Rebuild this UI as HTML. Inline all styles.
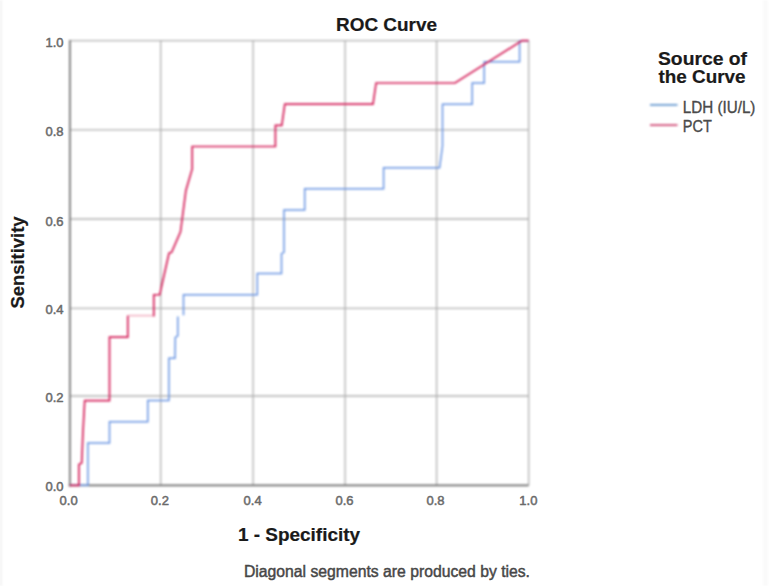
<!DOCTYPE html>
<html>
<head>
<meta charset="utf-8">
<style>
html,body{margin:0;padding:0;background:#fff;}
body{width:770px;height:586px;overflow:hidden;position:relative;}
svg{position:absolute;left:0;top:0;display:block;}
svg.soft{filter:blur(0.8px);}
text{font-family:"Liberation Sans", sans-serif;}
</style>
</head>
<body>
<svg class="soft" width="770" height="586" viewBox="0 0 770 586">
  <rect x="0" y="0" width="770" height="586" fill="#ffffff"/>
  <rect x="-2" y="-2" width="4" height="590" fill="#f2f2f2"/>
  <rect x="763" y="-2" width="5" height="590" fill="#fafafa"/>

  <!-- gridlines -->
  <g stroke="#b0b0b0" stroke-width="1.3" fill="none">
    <line x1="69.9" y1="40.65" x2="528.65" y2="40.65"/>
    <line x1="69.9" y1="129.8" x2="528.65" y2="129.8"/>
    <line x1="69.9" y1="219" x2="528.65" y2="219"/>
    <line x1="69.9" y1="308.3" x2="528.65" y2="308.3"/>
    <line x1="69.9" y1="396" x2="528.65" y2="396"/>
    <line x1="160.7" y1="40.65" x2="160.7" y2="485.3"/>
    <line x1="253.1" y1="40.65" x2="253.1" y2="485.3"/>
    <line x1="345.1" y1="40.65" x2="345.1" y2="485.3"/>
    <line x1="436.6" y1="40.65" x2="436.6" y2="485.3"/>
    <line x1="528.65" y1="40.65" x2="528.65" y2="485.3"/>
  </g>
  <!-- axes -->
  <g stroke-width="1.8" fill="none">
    <line x1="69.9" y1="40" x2="69.9" y2="486.5" stroke="#787878"/>
    <line x1="68.7" y1="485.3" x2="528.65" y2="485.3" stroke="#6a6a6a"/>
  </g>

  <!-- blue curve -->
  <path fill="none" stroke="#6894e2" stroke-width="1.5" stroke-linejoin="miter"
    d="M69.9 485.3 H87.9 V442.95 H109.5 V421.78 H147.8 V400.6 H168.9 V358.26 H175 L175.3 337.5 L177.8 335.8 V316.6 M183.5 315.2 V294.74 H257.3 V273.56 H281.5 V253.7 L284 252.39 V210.04 H304.7 V188.87 H383.6 V167.69 H439.6 L442.5 146 V104.17 H472.2 V83 H484.2 V61.82 H519.6 V40.65 H528.65"/>
  <!-- red curve -->
  <path fill="none" stroke="#d41e58" stroke-width="1.7" stroke-linejoin="miter"
    d="M69.9 485.3 H78.9 V464.5 L81.7 463 L82.9 433.5 L84.7 400.6 H109.5 V337.08 H127.8 V315.6"/>
  <line x1="128.5" y1="315.6" x2="153" y2="315.6" stroke="#f0aabd" stroke-width="1.4"/>
  <path fill="none" stroke="#d41e58" stroke-width="1.7" stroke-linejoin="miter"
    d="M153.8 316.4 V294.74 H159.7 L169 253.2 L171.6 252.39 L180.5 231.8 L185.9 190.5 L192.2 169 V146.5 H275.4 V125.35 H281.8 L284.8 104.17 H373 L376.1 83 H455 L522 40.65 H528.65"/>

  <!-- legend swatches -->
  <line x1="650" y1="104.9" x2="677.5" y2="104.9" stroke="#4a86c8" stroke-width="1.5"/>
  <line x1="650" y1="125.1" x2="677.5" y2="125.1" stroke="#c8285c" stroke-width="1.5"/>
</svg>

<svg width="770" height="586" viewBox="0 0 770 586">
  <!-- title -->
  <text x="336" y="31" font-size="18.5" font-weight="bold" fill="#1a1a1a" stroke="#1a1a1a" stroke-width="0.2" textLength="101" lengthAdjust="spacingAndGlyphs">ROC Curve</text>

  <!-- y tick labels -->
  <g font-size="13" fill="#6a6a6a" stroke="#6a6a6a" stroke-width="0.5" text-anchor="end">
    <text x="63.5" y="491">0.0</text>
    <text x="63.5" y="402">0.2</text>
    <text x="63.5" y="314.2">0.4</text>
    <text x="63.5" y="225.6">0.6</text>
    <text x="63.5" y="136">0.8</text>
    <text x="63.5" y="47.3">1.0</text>
  </g>
  <!-- x tick labels -->
  <g font-size="13" fill="#6a6a6a" stroke="#6a6a6a" stroke-width="0.5" text-anchor="middle">
    <text x="68.6" y="504.5">0.0</text>
    <text x="159.9" y="504.5">0.2</text>
    <text x="252.6" y="504.5">0.4</text>
    <text x="344.5" y="504.5">0.6</text>
    <text x="435.5" y="504.5">0.8</text>
    <text x="528.4" y="504.5">1.0</text>
  </g>

  <!-- axis titles -->
  <text x="238" y="541" font-size="18" font-weight="bold" fill="#1a1a1a" stroke="#1a1a1a" stroke-width="0.2" textLength="122" lengthAdjust="spacingAndGlyphs">1 - Specificity</text>
  <text transform="translate(24,308.5) rotate(-90)" x="0" y="0" font-size="18" font-weight="bold" fill="#1a1a1a" stroke="#1a1a1a" stroke-width="0.2" textLength="92" lengthAdjust="spacingAndGlyphs">Sensitivity</text>

  <!-- footnote -->
  <text x="244" y="577" font-size="16" fill="#474747" stroke="#474747" stroke-width="0.45" textLength="286" lengthAdjust="spacingAndGlyphs">Diagonal segments are produced by ties.</text>

  <!-- legend -->
  <text x="658" y="64.6" font-size="17.5" font-weight="bold" fill="#1a1a1a" stroke="#1a1a1a" stroke-width="0.2" textLength="89" lengthAdjust="spacingAndGlyphs">Source of</text>
  <text x="658.5" y="83.3" font-size="17.5" font-weight="bold" fill="#1a1a1a" stroke="#1a1a1a" stroke-width="0.2" textLength="87" lengthAdjust="spacingAndGlyphs">the Curve</text>
  <text x="682.8" y="112.6" font-size="15.8" fill="#4a4a4a" stroke="#4a4a4a" stroke-width="0.35" textLength="72.6" lengthAdjust="spacingAndGlyphs">LDH (IU/L)</text>
  <text x="682.8" y="132.2" font-size="15.8" fill="#4a4a4a" stroke="#4a4a4a" stroke-width="0.35" textLength="29" lengthAdjust="spacingAndGlyphs">PCT</text>
</svg>
</body>
</html>
